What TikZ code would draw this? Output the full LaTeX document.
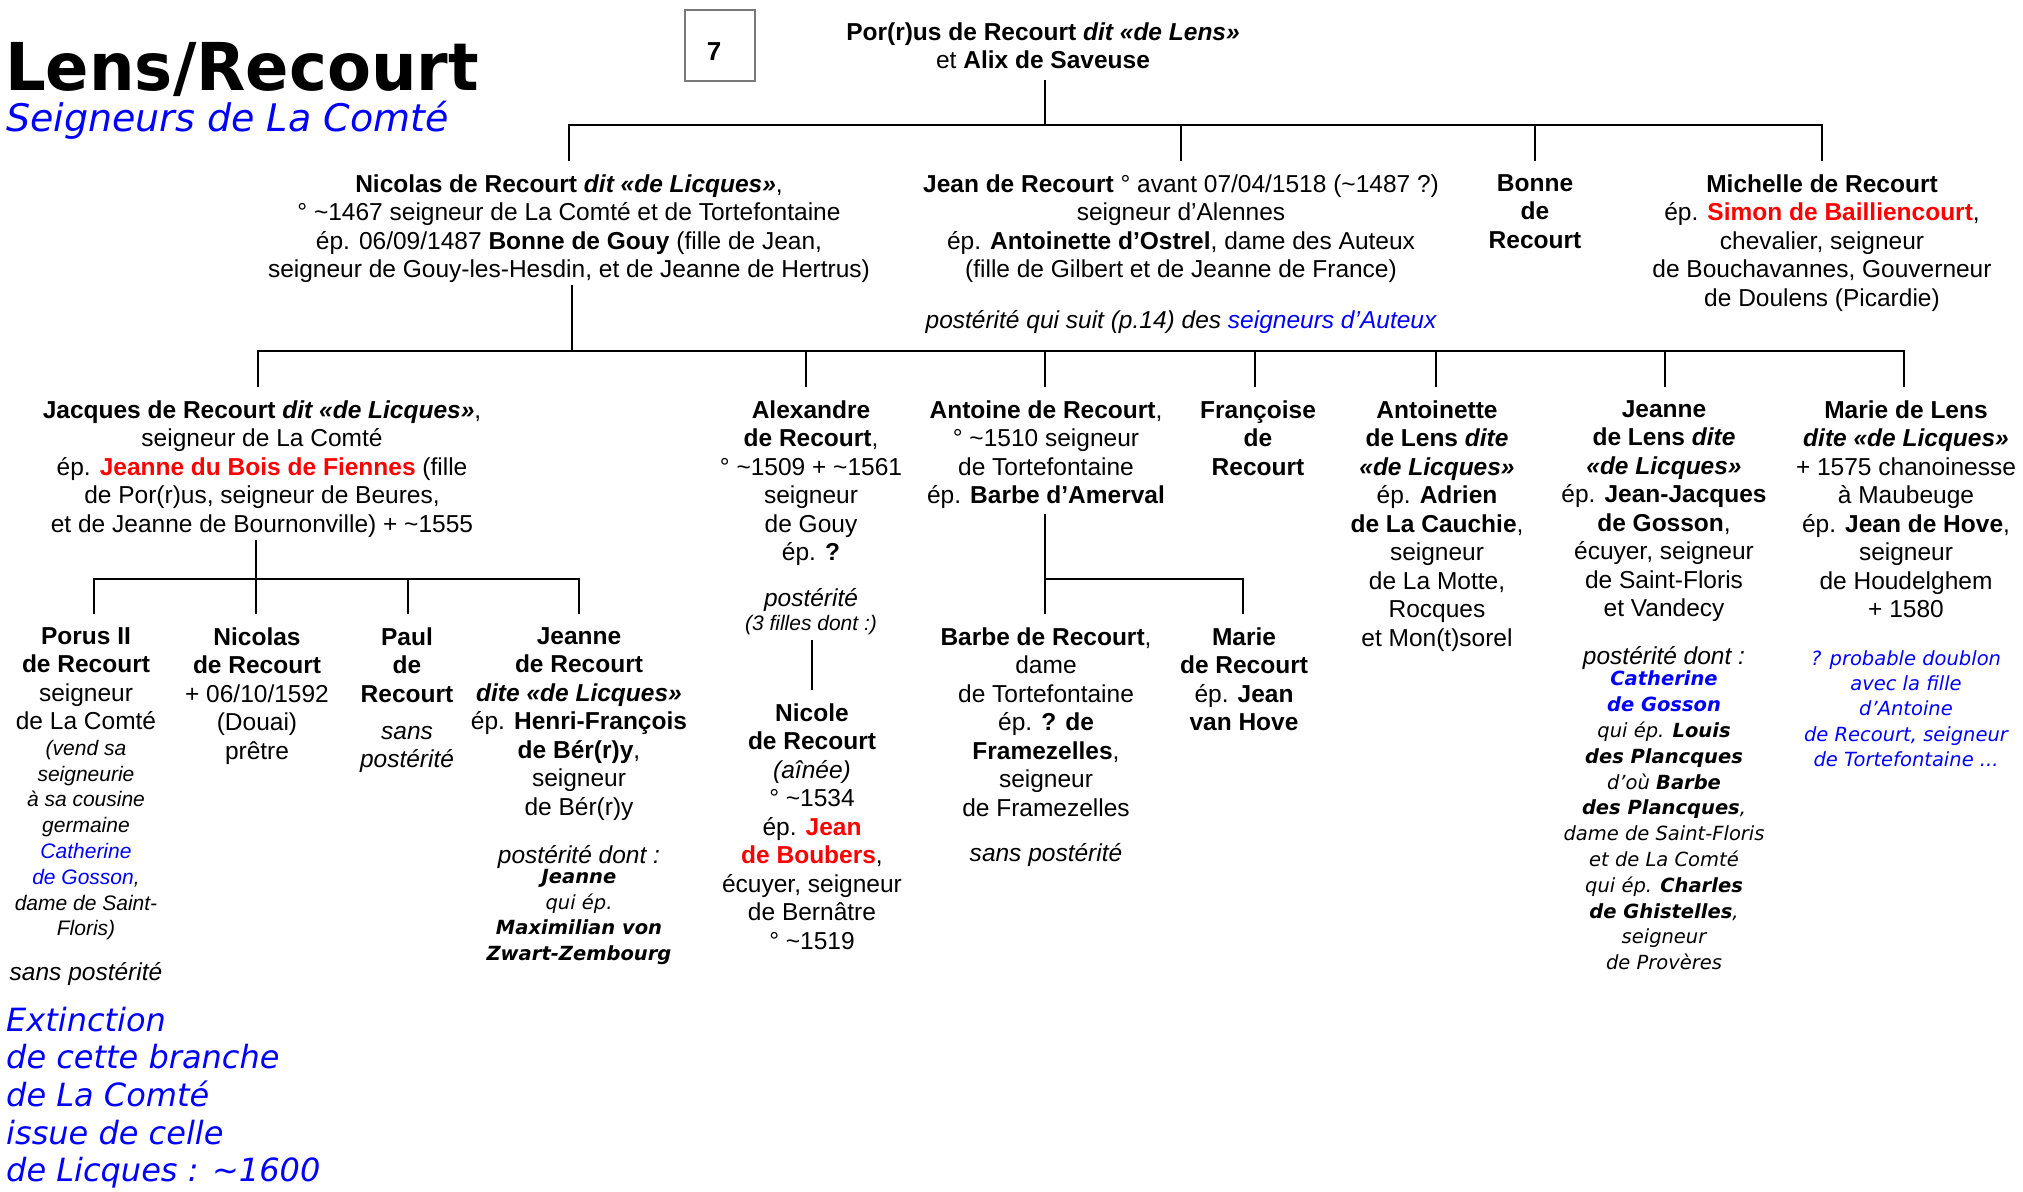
\documentclass[tikz,border=0pt]{standalone}
\usepackage{fontspec}
\setmainfont{Liberation Sans}
\newfontfamily\verd{DejaVu Sans}
\usepackage{graphicx}
\newcommand\tld{\textasciitilde}
\definecolor{myred}{RGB}{255,0,0}
\definecolor{myblue}{RGB}{0,0,255}
\definecolor{boxgray}{RGB}{120,120,120}
\tikzset{
  ln/.style={line width=2.8pt},
  nb/.style={align=center, inner sep=0pt, anchor=north,
    execute at begin node=\strut, execute at end node=\strut},
  tx/.style={nb, yshift=16.95pt, font=\fontsize{24.5}{28.5}\selectfont},
  bf/.style={nb, yshift=16.95pt, font=\bfseries\fontsize{24.5}{28.5}\selectfont},
  it/.style={nb, yshift=16.95pt, font=\itshape\fontsize{24.5}{28.5}\selectfont},
  sm/.style={nb, yshift=15.06pt, font=\itshape\fontsize{21}{25.8}\selectfont},
  smb/.style={nb, yshift=13.8pt, font=\itshape\fontsize{21}{24}\selectfont},
  vd/.style={nb, yshift=15.06pt, font=\verd\itshape\fontsize{19.5}{25.8}\selectfont},
  vdb/.style={nb, yshift=14.71pt, font=\verd\itshape\fontsize{19.5}{25.3}\selectfont},
}
\begin{document}
\begin{tikzpicture}[x=1pt,y=-1pt]
\useasboundingbox (0,0) rectangle (2023,1191);
\fill[white] (0,0) rectangle (2023,1191);

% title
\node[anchor=base west, inner sep=0pt, font=\verd\bfseries\fontsize{66}{70}\selectfont] (title) at (5,90) {\scalebox{0.97}[1]{Lens/Recourt}};
\node[anchor=base west, inner sep=0pt, font=\verd\itshape\fontsize{38}{40}\selectfont, text=myblue] (subtitle) at (6,131) {Seigneurs de La Comté};

% page number box
\node[draw=boxgray, line width=1.2pt, minimum width=70pt, minimum height=71pt, inner sep=0pt] (numbox) at (720,45.5) {};
\node[inner sep=0pt, font=\bfseries\fontsize{26}{30}\selectfont] (num) at (714,52) {7};

% generation 1
\node[tx] (couple) at (1043,39) {\textbf{Por(r)us de Recourt \textit{dit «de Lens»}}\\ et \textbf{Alix de Saveuse}};

% generation 2
\node[tx] (nicolas) at (569,191) {\textbf{Nicolas de Recourt \textit{dit «de Licques»}},\\ ° \tld1467 seigneur de La Comté et de Tortefontaine\\ ép. 06/09/1487 \textbf{Bonne de Gouy} (fille de Jean,\\ seigneur de Gouy-les-Hesdin, et de Jeanne de Hertrus)};
\node[tx] (jean) at (1181,191) {\textbf{Jean de Recourt} ° avant 07/04/1518 (\tld1487 ?)\\ seigneur d’Alennes\\ ép. \textbf{Antoinette d’Ostrel}, dame des Auteux\\ (fille de Gilbert et de Jeanne de France)};
\node[it] (jeanpost) at (1181,325) {postérité qui suit (p.14) des \textcolor{myblue}{seigneurs d’Auteux}};
\node[bf] (bonne) at (1535,191) {Bonne\\ de\\ Recourt};
\node[tx] (michelle) at (1822,191) {\textbf{Michelle de Recourt}\\ ép. \textcolor{myred}{\textbf{Simon de Bailliencourt}},\\ chevalier, seigneur\\ de Bouchavannes, Gouverneur\\ de Doulens (Picardie)};

% generation 3
\node[tx] (jacques) at (262,417) {\textbf{Jacques de Recourt \textit{dit «de Licques»}},\\ seigneur de La Comté\\ ép. \textcolor{myred}{\textbf{Jeanne du Bois de Fiennes}} (fille\\ de Por(r)us, seigneur de Beures,\\ et de Jeanne de Bournonville) + \tld1555};
\node[tx] (alexandre) at (811,417) {\textbf{Alexandre}\\ \textbf{de Recourt},\\ ° \tld1509 + \tld1561\\ seigneur\\ de Gouy\\ ép. \textbf{?}};
\node[it] (alexpost) at (811,603) {postérité};
\node[smb] (alexpost2) at (811,627) {(3 filles dont :)};
\node[tx] (antoine) at (1046,417) {\textbf{Antoine de Recourt},\\ ° \tld1510 seigneur\\ de Tortefontaine\\ ép. \textbf{Barbe d’Amerval}};
\node[bf] (francoise) at (1258,417) {Françoise\\ de\\ Recourt};
\node[tx] (antoinette) at (1437,417) {\textbf{Antoinette}\\ \textbf{de Lens \textit{dite}}\\ \textbf{\textit{«de Licques»}}\\ ép. \textbf{Adrien}\\ \textbf{de La Cauchie},\\ seigneur\\ de La Motte,\\ Rocques\\ et Mon(t)sorel};
\node[tx] (jeannel) at (1664,417) {\textbf{Jeanne}\\ \textbf{de Lens \textit{dite}}\\ \textbf{\textit{«de Licques»}}\\ ép. \textbf{Jean-Jacques}\\ \textbf{de Gosson},\\ écuyer, seigneur\\ de Saint-Floris\\ et Vandecy};
\node[it] (jeannelpost) at (1664,661) {postérité dont :};
\node[vd] (jeannelpost2) at (1664,686) {\textcolor{myblue}{\textbf{Catherine}}\\ \textcolor{myblue}{\textbf{de Gosson}}\\ qui ép. \textbf{Louis}\\ \textbf{des Plancques}\\ d’où \textbf{Barbe}\\ \textbf{des Plancques},\\ dame de Saint-Floris\\ et de La Comté\\ qui ép. \textbf{Charles}\\ \textbf{de Ghistelles},\\ seigneur\\ de Provères};
\node[tx] (mariel) at (1906,417) {\textbf{Marie de Lens}\\ \textbf{\textit{dite «de Licques»}}\\ + 1575 chanoinesse\\ à Maubeuge\\ ép. \textbf{Jean de Hove},\\ seigneur\\ de Houdelghem\\ + 1580};
\node[vdb, text=myblue] (marielnote) at (1906,665) {? probable doublon\\ avec la fille\\ d’Antoine\\ de Recourt, seigneur\\ de Tortefontaine ...};

% generation 4 (children of Jacques)
\node[tx] (porus) at (86,644) {\textbf{Porus II}\\ \textbf{de Recourt}\\ seigneur\\ de La Comté};
\node[sm] (porusnote) at (86,755) {(vend sa\\ seigneurie\\ à sa cousine\\ germaine\\ \textcolor{myblue}{Catherine}\\ \textcolor{myblue}{de Gosson},\\ dame de Saint-\\ Floris)};
\node[it] (poruspost) at (86,977) {sans postérité};
\node[tx] (nicolas2) at (257,644) {\textbf{Nicolas}\\ \textbf{de Recourt}\\ + 06/10/1592\\ (Douai)\\ prêtre};
\node[bf] (paul) at (407,644) {Paul\\ de\\ Recourt};
\node[it] (paulpost) at (407,743) {sans\\ postérité};
\node[tx] (jeanner) at (579,644) {\textbf{Jeanne}\\ \textbf{de Recourt}\\ \textbf{\textit{dite «de Licques»}}\\ ép. \textbf{Henri-François}\\ \textbf{de Bér(r)y},\\ seigneur\\ de Bér(r)y};
\node[it] (jeannerpost) at (579,860) {postérité dont :};
\node[vd] (jeannerpost2) at (579,884) {\textbf{Jeanne}\\ qui ép.\\ \textbf{Maximilian von}\\ \textbf{Zwart-Zembourg}};

% children of Alexandre / Antoine
\node[tx] (nicole) at (812,720) {\textbf{Nicole}\\ \textbf{de Recourt}\\ \textit{(aînée)}\\ ° \tld1534\\ ép. \textcolor{myred}{\textbf{Jean}}\\ \textcolor{myred}{\textbf{de Boubers}},\\ écuyer, seigneur\\ de Bernâtre\\ ° \tld1519};
\node[tx] (barbe) at (1046,644) {\textbf{Barbe de Recourt},\\ dame\\ de Tortefontaine\\ ép. \textbf{? de}\\ \textbf{Framezelles},\\ seigneur\\ de Framezelles};
\node[it] (barbepost) at (1046,858) {sans postérité};
\node[tx] (marier) at (1244,644) {\textbf{Marie}\\ \textbf{de Recourt}\\ ép. \textbf{Jean}\\ \textbf{van Hove}};

% extinction note
\node[anchor=north west, inner sep=0pt, yshift=26.3pt, align=left, text=myblue,
  font=\verd\itshape\fontsize{32}{37.6}\selectfont,
  execute at begin node=\strut] (extinction) at (6,1033) {Extinction\\ de cette branche\\ de La Comté\\ issue de celle\\ de Licques : \tld1600};

% ---------- connectors ----------
\coordinate (b1) at (1045,125);
\coordinate (b1a) at (569,125);
\coordinate (b1b) at (1181,125);
\coordinate (b1c) at (1535,125);
\coordinate (b1d) at (1822,125);
\draw[ln] ([yshift=-3pt]couple.south -| b1) -- (b1);
\draw[ln] ([yshift=13pt]nicolas.north -| b1a) -- (b1a) -- (b1d) -- ([yshift=13pt]michelle.north -| b1d);
\draw[ln] (b1b) -- ([yshift=13pt]jean.north -| b1b);
\draw[ln] (b1c) -- ([yshift=13pt]bonne.north -| b1c);

\coordinate (n2) at (572,351);
\coordinate (b2a) at (258,351);
\coordinate (b2b) at (806,351);
\coordinate (b2c) at (1045,351);
\coordinate (b2d) at (1255,351);
\coordinate (b2e) at (1436,351);
\coordinate (b2f) at (1665,351);
\coordinate (b2g) at (1904,351);
\draw[ln] ([yshift=1pt]nicolas.south -| n2) -- (n2);
\draw[ln] ([yshift=13pt]jacques.north -| b2a) -- (b2a) -- (b2g) -- ([yshift=13pt]mariel.north -| b2g);
\draw[ln] (b2b) -- ([yshift=13pt]alexandre.north -| b2b);
\draw[ln] (b2c) -- ([yshift=13pt]antoine.north -| b2c);
\draw[ln] (b2d) -- ([yshift=13pt]francoise.north -| b2d);
\draw[ln] (b2e) -- ([yshift=13pt]antoinette.north -| b2e);
\draw[ln] (b2f) -- ([yshift=13pt]jeannel.north -| b2f);

\coordinate (j3) at (256,579);
\coordinate (b3a) at (94,579);
\coordinate (b3c) at (408,579);
\coordinate (b3d) at (579,579);
\draw[ln] ([yshift=0.5pt]jacques.south -| j3) -- (j3);
\draw[ln] ([yshift=13pt]porus.north -| b3a) -- (b3a) -- (b3d) -- ([yshift=13pt]jeanner.north -| b3d);
\draw[ln] (j3) -- ([yshift=13pt]nicolas2.north -| j3);
\draw[ln] (b3c) -- ([yshift=13pt]paul.north -| b3c);

\draw[ln] ([yshift=-2pt]alexpost2.south -| nicole.north) -- ([yshift=13pt]nicole.north);

\coordinate (a3) at (1045,579);
\coordinate (a3b) at (1243,579);
\draw[ln] ([yshift=-2pt]antoine.south -| a3) -- ([yshift=13pt]barbe.north -| a3);
\draw[ln] (a3) -- (a3b) -- ([yshift=13pt]marier.north -| a3b);
\end{tikzpicture}
\end{document}
